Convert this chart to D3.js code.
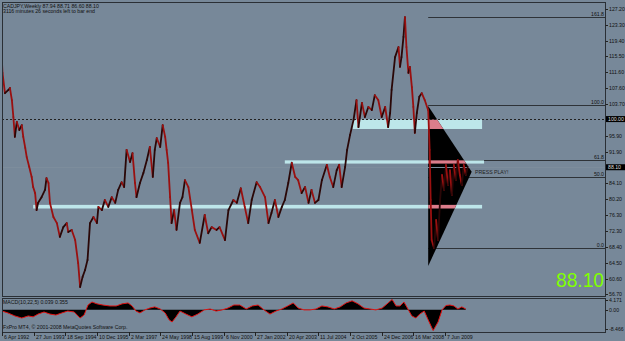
<!DOCTYPE html>
<html>
<head>
<meta charset="utf-8">
<script src="https://cdn.jsdelivr.net/npm/d3@7"></script>
<style>
body { margin: 0; background: #778899; }
svg { display: block; }
text { font-family: "Liberation Sans", Arial, sans-serif; }
</style>
</head>
<body>
<div id="chart"></div>
<script>
// weekly closes, week 0 = 6 Apr 1992
const weeks = [0,1,6,13,16,20,23,26,30,35,40,43,47,50,55,60,63,67,70,73,80,87,90,94,97,104,111,117,124,131,134,141,148,154,158,163,168,173,178,185,192,195,202,208,215,222,229,235,242,247,252,259,264,269,272,279,286,293,299,305,309,313,320,325,330,333,336,340,343,348,353,360,365,370,377,384,390,400,410,417,424,434,440,451,458,468,475,483,491,498,505,515,522,532,539,545,552,559,566,572,579,586,593,599,606,613,620,626,633,640,647,657,663,670,677,682,687,694,698,704,711,717,721,728,734,741,748,754,761,768,775,781,785,788,795,802,805,808,812,815,818,822,825,829,832,835,839,844,849,855,862,865,867,869,874,878,882,886,890,894,898,902,906,910,914,918,922,926,930,934,938,942];
const closes = [113.9,111.4,106.4,107.2,107.7,104.7,100.5,95.6,99.3,97.3,98.5,95.6,92.9,90.6,88.2,85.7,83.2,81.7,77.5,79.3,80.7,82.5,85.4,84.2,79.3,75.8,74.3,70.9,73.3,74.3,72.1,72.6,70.1,64.4,58.5,61.0,62.7,65.2,74.3,75.8,74.3,78.3,77.5,80.0,78.3,80.7,79.3,82.5,84.4,83.2,92.4,89.4,91.6,84.2,80.7,84.2,86.7,89.9,93.1,85.7,92.4,95.3,93.1,98.5,95.6,92.4,89.2,80.7,74.3,77.5,72.6,79.3,80.7,84.9,83.2,77.5,72.6,69.4,76.3,71.8,73.3,72.6,73.3,70.1,77.5,80.0,79.3,82.9,78.3,74.3,80.0,84.4,83.2,80.7,74.3,76.8,80.0,75.8,78.3,80.0,84.2,89.2,85.7,84.9,81.7,83.2,79.3,82.5,79.3,80.0,84.9,88.7,85.7,83.2,87.4,88.7,83.2,88.2,92.4,96.1,99.8,104.7,98.0,104.0,100.5,103.0,102.2,105.9,104.7,100.5,103.0,98.0,101.5,107.2,115.3,117.8,112.9,115.3,120.3,125.2,117.8,111.4,112.9,107.9,103.0,96.6,101.5,105.5,106.4,104.7,102.2,92.4,80.0,70.1,68.1,75.1,70.1,80.0,86.2,82.5,88.7,83.7,87.4,81.2,88.7,84.9,89.9,86.2,83.7,88.7,86.2,88.1];

const macdWeeks = [0,12,26,40,53,63,73,85,97,109,121,133,146,158,166,174,182,192,204,218,231,243,255,263,271,279,289,299,309,320,330,338,344,352,360,372,384,396,409,421,433,445,457,469,481,494,506,518,530,542,554,566,578,589,599,611,623,635,647,659,672,684,696,708,720,732,744,756,769,781,789,797,805,813,821,829,837,845,854,862,872,882,890,898,906,914,922,930,938];
const macdValues = [-0.6,-1.4,-2.7,-3.6,-2.7,-3.1,-1.9,-1.0,-1.9,-2.3,-1.4,-0.6,-1.0,-3.6,-2.3,2.0,3.3,2.5,2.0,1.6,1.6,2.5,2.9,1.6,-0.6,-1.4,-0.1,0.7,1.2,0.3,-1.4,-4.4,-5.3,-3.1,-0.6,-1.9,-3.1,-1.9,-0.1,0.3,-0.6,-0.1,0.7,2.0,2.0,0.3,1.6,2.0,-0.1,-1.9,-0.6,0.3,1.6,2.9,0.7,-0.1,-0.1,0.3,1.6,1.2,0.3,1.2,2.9,3.8,2.5,0.7,0.3,-0.1,0.7,2.9,4.4,1.6,1.6,3.3,0.3,-2.7,-3.6,-1.9,-0.6,-4.4,-9.0,-5.3,-0.1,1.8,2.0,1.6,0.3,1.2,0.3];

const dateLabels = ["6 Apr 1992","27 Jun 1993","18 Sep 1994","10 Dec 1995","2 Mar 1997","24 May 1998","15 Aug 1999","6 Nov 2000","27 Jan 2002","20 Apr 2003","11 Jul 2004","2 Oct 2005","24 Dec 2006","16 Mar 2008","7 Jun 2009"];
const labelStep = 64; // bars between time labels

const priceTicks = [127.2,123.3,119.4,115.5,111.6,107.6,103.7,95.9,91.9,84.1,80.2,76.3,72.3,68.4,64.5,60.6,56.7];
const macdTicks = [4.171, 0, -8.466];

const fibLevels = [0, 50, 61.8, 100, 161.8];
const fibLow = 68.1, fibHigh = 103.4, fibWeek = 862;
const zoneTop = [99.9, 89.8, 78.8];
const zoneBottom = [97.55, 89.0, 77.9];
const zoneFrom = [709, 572, 63];
const zoneTo = [971, 975, 971];
const triangle = [[862, 103.2], [950, 87.0], [862, 63.7]];
const levelLine = 100.0;
const bid = 88.10;

const W = 625, H = 341;
const left = 2, right = 605, mainTop = 2, mainBottom = 296, subTop = 298, subBottom = 332;

const svg = d3.select("#chart").append("svg").attr("width", W).attr("height", H);
svg.append("rect").attr("width", W).attr("height", H).attr("fill", "#778899");

const x = d3.scaleLinear().domain([0, 896]).range([2, 445]);
const y = d3.scaleLinear().domain([56.7, 127.2]).range([294.3, 9]);
const ym = d3.scaleLinear().domain([-8.466, 4.171]).range([329.3, 300]);

const main = svg.append("g");
main.append("clipPath").attr("id", "mainclip").append("rect")
  .attr("x", left).attr("y", mainTop).attr("width", right - left).attr("height", mainBottom - mainTop);

// fib lines (under triangle)
fibLevels.forEach(l => {
  const py = Math.round(y(fibLow + l / 100 * (fibHigh - fibLow))) + 0.5;
  main.append("line").attr("x1", x(fibWeek)).attr("x2", right).attr("y1", py).attr("y2", py)
    .attr("stroke", "#2e3338").attr("stroke-width", 1);
  main.append("text").attr("x", right - 1).attr("y", py - 1.5).attr("text-anchor", "end")
    .attr("font-size", 5.2).attr("fill", "#111").text(l.toFixed(1));
});

// zones
zoneTop.forEach((t, i) => {
  main.append("rect").attr("x", x(zoneFrom[i])).attr("width", x(zoneTo[i]) - x(zoneFrom[i]))
    .attr("y", y(t)).attr("height", y(zoneBottom[i]) - y(t)).attr("fill", "#bde6ea");
});

// triangle
const triPts = triangle.map(d => [x(d[0]), y(d[1])]);
main.append("polygon").attr("points", triPts.map(p => p.join(",")).join(" ")).attr("fill", "#000");
svg.append("clipPath").attr("id", "triclip").append("polygon").attr("points", triPts.map(p => p.join(",")).join(" "));
const pink = main.append("g").attr("clip-path", "url(#triclip)");
zoneTop.forEach((t, i) => {
  pink.append("rect").attr("x", x(zoneFrom[i])).attr("width", x(zoneTo[i]) - x(zoneFrom[i]))
    .attr("y", y(t)).attr("height", y(zoneBottom[i]) - y(t)).attr("fill", "#dc7d8b");
});
// bid line, only visible over the black
const by = Math.round(y(bid)) + 0.5;
main.append("line").attr("x1", left).attr("x2", right).attr("y1", by).attr("y2", by)
  .attr("stroke", "#7d8d9c").attr("stroke-width", 1);

// horizontal dashed line
const hy = Math.round(y(levelLine)) + 0.5;
main.append("line").attr("x1", left).attr("x2", right).attr("y1", hy).attr("y2", hy)
  .attr("stroke", "#222").attr("stroke-dasharray", "2,2").attr("stroke-width", 1);

main.append("text").attr("x", 475).attr("y", y(86.4)).attr("font-size", 5.2).attr("fill", "#222").text("PRESS PLAY!");

// price
const priceG = main.append("g").attr("clip-path", "url(#mainclip)");
for (let i = 1; i < weeks.length; i++) {
  const up = closes[i] >= closes[i - 1];
  priceG.append("line")
    .attr("x1", x(weeks[i - 1])).attr("y1", y(closes[i - 1]))
    .attr("x2", x(weeks[i])).attr("y2", y(closes[i]))
    .attr("stroke", up ? "#2a0707" : "#9a1010").attr("stroke-width", 1.8).attr("stroke-linecap", "round");
}

// big price
svg.append("text").attr("x", 604).attr("y", 287).attr("text-anchor", "end")
  .attr("font-size", 21).attr("textLength", 48).attr("lengthAdjust", "spacingAndGlyphs")
  .attr("fill", "#80ff00").text(bid.toFixed(2));

// header
svg.append("text").attr("x", 3).attr("y", 7.5).attr("font-size", 5.2).attr("fill", "#111")
  .text("CADJPY,Weekly  87.94 88.71 86.60 88.10");
svg.append("text").attr("x", 3).attr("y", 12.5).attr("font-size", 5.2).attr("fill", "#111")
  .text("3116 minutes 26 seconds left to bar end");

// MACD panel
const sub = svg.append("g");
sub.append("clipPath").attr("id", "subclip").append("rect")
  .attr("x", left).attr("y", subTop).attr("width", right - left).attr("height", subBottom - subTop);
const mdata = macdWeeks.map((w, i) => ({ w, v: macdValues[i] }));
sub.append("path").datum(mdata).attr("clip-path", "url(#subclip)")
  .attr("d", d3.area().x(d => x(d.w)).y0(ym(0)).y1(d => ym(d.v)))
  .attr("fill", "#000");
sub.append("path").datum(mdata).attr("clip-path", "url(#subclip)")
  .attr("d", d3.line().x(d => x(d.w)).y(d => ym(d.v)))
  .attr("fill", "none").attr("stroke", "#e01010").attr("stroke-width", 1);
sub.append("text").attr("x", 3).attr("y", 303.5).attr("font-size", 5.2).attr("fill", "#111")
  .text("MACD(10,22,5) 0.039 0.355");
sub.append("text").attr("x", 3).attr("y", 329).attr("font-size", 5.2).attr("fill", "#111")
  .text("FxPro MT4, \u00a9 2001-2008 MetaQuotes Software Corp.");

// frames
svg.append("rect").attr("x", left + 0.5).attr("y", mainTop + 0.5).attr("width", right - left).attr("height", mainBottom - mainTop)
  .attr("fill", "none").attr("stroke", "#2a2f35");
svg.append("rect").attr("x", left + 0.5).attr("y", subTop + 0.5).attr("width", right - left).attr("height", subBottom - subTop)
  .attr("fill", "none").attr("stroke", "#2a2f35");

// right price axis
const axisG = svg.append("g");
priceTicks.forEach(v => {
  const py = Math.round(y(v)) + 0.5;
  axisG.append("line").attr("x1", right + 0.5).attr("x2", right + 3).attr("y1", py).attr("y2", py).attr("stroke", "#222");
  axisG.append("text").attr("x", right + 4).attr("y", py + 1.8).attr("font-size", 5.2).attr("fill", "#111").text(v.toFixed(2));
});
[levelLine, bid].forEach(v => {
  const py = y(v);
  axisG.append("rect").attr("x", right + 1).attr("y", py - 3).attr("width", 19).attr("height", 6).attr("fill", "#000");
  axisG.append("text").attr("x", right + 3).attr("y", py + 1.8).attr("font-size", 5.2).attr("fill", "#ddd").text(v.toFixed(2));
});
macdTicks.forEach(v => {
  const py = Math.round(ym(v)) + 0.5;
  axisG.append("line").attr("x1", right + 0.5).attr("x2", right + 3).attr("y1", py).attr("y2", py).attr("stroke", "#222");
  axisG.append("text").attr("x", right + 4).attr("y", py + 1.8).attr("font-size", 5.2).attr("fill", "#111")
    .text(v === 0 ? "0.00" : String(v));
});

// bottom time axis
dateLabels.forEach((lab, i) => {
  const px = Math.round(x(i * labelStep)) + 0.5;
  axisG.append("line").attr("x1", px).attr("x2", px).attr("y1", subBottom).attr("y2", subBottom + 4).attr("stroke", "#222");
  axisG.append("text").attr("x", px + 1.5).attr("y", 339).attr("font-size", 5.2).attr("fill", "#111").text(lab);
});
</script>
</body>
</html>
